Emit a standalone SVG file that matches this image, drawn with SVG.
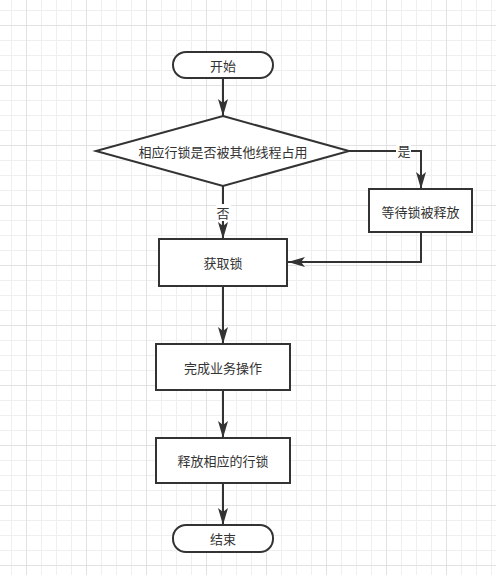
<svg xmlns="http://www.w3.org/2000/svg" width="496" height="575" viewBox="0 0 496 575">
<style>
.shape{fill:#ffffff;stroke:#333333;stroke-width:2}
.edge{fill:none;stroke:#333333;stroke-width:2}
.t{font-family:"Noto Sans CJK SC","Liberation Sans",sans-serif;font-size:13px;fill:#333333;text-anchor:middle;dominant-baseline:central}
.lbl{fill:#ffffff}
</style>
<defs>
<pattern id="grid" patternUnits="userSpaceOnUse" x="26" y="25" width="60" height="60">
<rect x="0" y="0" width="60" height="60" fill="#ffffff"/>
<rect x="15" y="0" width="1" height="60" fill="#efefef"/>
<rect x="30" y="0" width="1" height="60" fill="#efefef"/>
<rect x="45" y="0" width="1" height="60" fill="#efefef"/>
<rect x="0" y="15" width="60" height="1" fill="#efefef"/>
<rect x="0" y="30" width="60" height="1" fill="#efefef"/>
<rect x="0" y="45" width="60" height="1" fill="#efefef"/>
<rect x="0" y="0" width="1" height="60" fill="#e2e2e2"/>
<rect x="0" y="0" width="60" height="1" fill="#e2e2e2"/>
</pattern>
<marker id="arr" viewBox="0 0 17 10" refX="17" refY="5" markerWidth="17" markerHeight="10" markerUnits="userSpaceOnUse" orient="auto">
<path d="M0,0 L17,5 L0,10 L4,5 Z" fill="#333333"/>
</marker>
</defs>
<rect x="0" y="0" width="496" height="575" fill="url(#grid)"/>

<g id="connectors">
<path class="edge" d="M223,78 L223,116" marker-end="url(#arr)"/>
<path class="edge" d="M349,151 L421,151 L421,189" marker-end="url(#arr)"/>
<path class="edge" d="M223,186 L223,239" marker-end="url(#arr)"/>
<path class="edge" d="M421,232 L421,262 L288,262" marker-end="url(#arr)"/>
<path class="edge" d="M223,286 L223,344" marker-end="url(#arr)"/>
<path class="edge" d="M223,390 L223,438" marker-end="url(#arr)"/>
<path class="edge" d="M223,483 L223,525" marker-end="url(#arr)"/>
<g id="label-yes">
<rect class="lbl" x="396" y="143" width="15" height="16"/>
<text class="t" x="404" y="150">是</text>
</g>
<g id="label-no">
<rect class="lbl" x="216" y="204" width="15" height="17"/>
<text class="t" x="223" y="212">否</text>
</g>
</g>

<g id="start">
<rect class="shape" x="173" y="52" width="100" height="26" rx="13" ry="13"/>
<text class="t" x="223" y="65">开始</text>
</g>
<g id="decision">
<polygon class="shape" points="223,116 349,151 223,186 96,151"/>
<text class="t" x="223" y="151">相应行锁是否被其他线程占用</text>
</g>
<g id="wait">
<rect class="shape" x="369" y="189" width="103" height="43"/>
<text class="t" x="420.5" y="211">等待锁被释放</text>
</g>
<g id="acquire">
<rect class="shape" x="159" y="239" width="128" height="47"/>
<text class="t" x="223" y="262">获取锁</text>
</g>
<g id="business">
<rect class="shape" x="156" y="344" width="134" height="46"/>
<text class="t" x="223" y="367">完成业务操作</text>
</g>
<g id="release">
<rect class="shape" x="156" y="438" width="134" height="45"/>
<text class="t" x="223" y="460">释放相应的行锁</text>
</g>
<g id="end">
<rect class="shape" x="173" y="525" width="100" height="27" rx="13" ry="13"/>
<text class="t" x="223" y="538">结束</text>
</g>
</svg>
